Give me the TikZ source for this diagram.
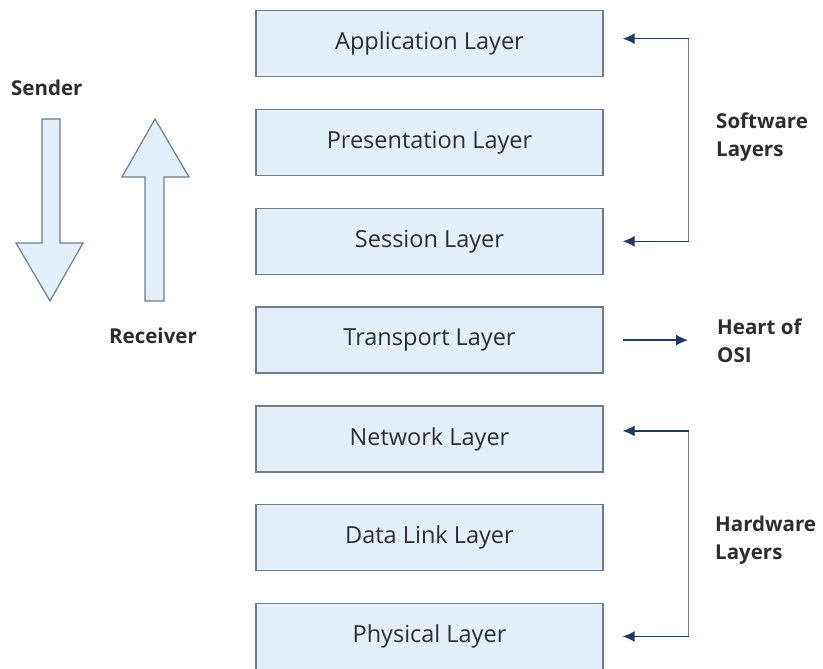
\documentclass[tikz,border=0pt]{standalone}
\usepackage{fontspec}
\setmainfont{Open Sans}
\usepackage{tikz}
\usetikzlibrary{positioning, arrows.meta}
\definecolor{osifill}{RGB}{227, 240, 252}
\definecolor{osiedge}{RGB}{110, 124, 140}
\definecolor{osinavy}{RGB}{31, 56, 100}
\definecolor{ositext}{RGB}{45, 45, 48}
\tikzset{
    layerbox/.style={rectangle, draw=osiedge, fill=osifill, line width=1.4pt,
        minimum width=347pt, minimum height=66pt, inner sep=0pt,
        font=\fontsize{23.5}{26}\selectfont, text=ositext},
    sidelabel/.style={align=left, anchor=west, inner sep=0pt,
        font=\fontsize{20.5}{28}\selectfont\bfseries, text=ositext},
    bigarrow/.style={draw=osiedge, fill=osifill, line width=1.2pt, line join=miter},
    bracket/.style={draw=osiedge, line width=1.2pt},
    pointer/.style={draw=osinavy, line width=1.3pt, -{Latex[length=12pt, width=11pt]}}
}

\begin{document}
\begin{tikzpicture}[x=1pt, y=-1pt, node distance=31.4pt]
    \useasboundingbox (0,0) rectangle (823,669);

    % the seven layers
    \node[layerbox] (app) at (429.5,43.7) {Application Layer};
    \node[layerbox, below=of app] (pres) {Presentation Layer};
    \node[layerbox, below=of pres] (sess) {Session Layer};
    \node[layerbox, below=of sess] (trans) {Transport Layer};
    \node[layerbox, below=of trans] (net) {Network Layer};
    \node[layerbox, below=of net] (link) {Data Link Layer};
    \node[layerbox, below=of link] (phys) {Physical Layer};

    % sender / receiver
    \node[sidelabel] (sender) at (11,88) {Sender};
    \node[sidelabel] (receiver) at (109,336) {Receiver};
    \path[bigarrow] (42,119) -- (60,119) -- (60,243) -- (83,243) -- (50,301)
        -- (16,243) -- (42,243) -- cycle;
    \path[bigarrow] (145,301) -- (164,301) -- (164,177) -- (189,177) -- (155,119)
        -- (122,177) -- (145,177) -- cycle;

    % software layers
    \coordinate (swtop) at ([xshift=85pt, yshift=5pt]app.east);
    \coordinate (swbot) at ([xshift=85pt]sess.east);
    \draw[bracket] (swtop) -- (swbot);
    \draw[pointer] (swtop) -- ([xshift=19pt, yshift=5pt]app.east);
    \draw[pointer] (swbot) -- ([xshift=19pt]sess.east);
    \node[sidelabel] (software) at (716,137) {Software\\Layers};

    % transport
    \node[sidelabel] (heart) at (717,341) {Heart of\\OSI};
    \draw[pointer] ([xshift=19pt]trans.east) -- ([xshift=-29pt]heart.west |- trans.east);

    % hardware layers
    \coordinate (hwtop) at ([xshift=85pt, yshift=8pt]net.east);
    \coordinate (hwbot) at ([xshift=85pt]phys.east);
    \draw[bracket] (hwtop) -- (hwbot);
    \draw[pointer] (hwtop) -- ([xshift=19pt, yshift=8pt]net.east);
    \draw[pointer] (hwbot) -- ([xshift=19pt]phys.east);
    \node[sidelabel] (hardware) at (715,540) {Hardware\\Layers};
\end{tikzpicture}
\end{document}
